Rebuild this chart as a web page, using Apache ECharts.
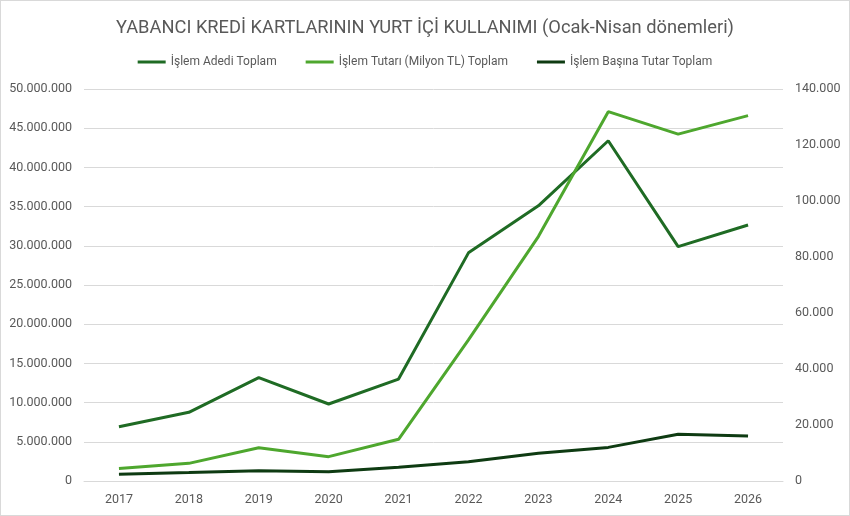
<!DOCTYPE html>
<html>
<head>
<meta charset="utf-8">
<script src="https://cdn.jsdelivr.net/npm/echarts@6/dist/echarts.min.js"></script>
<style>
	html, body { margin: 0; padding: 0; background: #fff; }
	#chart { width: 848px; height: 514px; border: 1px solid #d9d9d9; }
</style>
</head>
<body>
<div id="chart"></div>
<script>
var years = ['2017', '2018', '2019', '2020', '2021', '2022', '2023', '2024', '2025', '2026'];
// İşlem Adedi (sol eksen)
var islemAdedi = [6930000, 8760000, 13180000, 9820000, 13000000, 29100000, 35100000, 43400000, 29900000, 32650000];
// İşlem Tutarı (Milyon TL) (sağ eksen)
var islemTutari = [4500, 6300, 11900, 8700, 14900, 50400, 87300, 131900, 123900, 130500];
// İşlem Başına Tutar (sağ eksen)
var islemBasina = [2400, 3000, 3700, 3300, 4900, 6900, 9900, 12000, 16700, 16100];

var seriesNames = ['İşlem Adedi Toplam', 'İşlem Tutarı (Milyon TL) Toplam', 'İşlem Başına Tutar Toplam'];
var colors = ['#1f6b24', '#4ea72e', '#0e3b12'];

function fmt(v) {
	return String(v).replace(/\B(?=(\d{3})+(?!\d))/g, '.');
}

var chart = echarts.init(document.getElementById('chart'));
var font = 'Roboto, sans-serif';

var option = {
	animation: false,
	color: colors,
	textStyle: { fontFamily: font },
	title: {
		text: 'YABANCI KREDİ KARTLARININ YURT İÇİ KULLANIMI (Ocak-Nisan dönemleri)',
		left: 'center',
		top: 13,
		textStyle: { fontFamily: font, fontSize: 18.3, fontWeight: 'normal', color: '#595959' }
	},
	legend: {
		top: 50,
		left: 'center',
		itemWidth: 28,
		itemHeight: 3,
		itemGap: 29,
		icon: 'rect',
		textStyle: { fontFamily: font, fontSize: 12, color: '#595959' },
		data: seriesNames
	},
	grid: { left: 83, right: 66, top: 88, bottom: 34 },
	xAxis: {
		type: 'category',
		data: years,
		boundaryGap: true,
		axisLine: { lineStyle: { color: '#d9d9d9' } },
		axisTick: { show: false },
		axisLabel: { color: '#595959', fontSize: 12.5, margin: 12, fontFamily: font }
	},
	yAxis: [{
		type: 'value',
		min: 0,
		max: 50000000,
		interval: 5000000,
		axisLine: { show: false },
		axisTick: { show: false },
		splitLine: { lineStyle: { color: '#d9d9d9' } },
		axisLabel: { color: '#595959', fontSize: 12.5, margin: 12, fontFamily: font, formatter: fmt }
	}, {
		type: 'value',
		min: 0,
		max: 140000,
		interval: 20000,
		axisLine: { show: false },
		axisTick: { show: false },
		splitLine: { show: false },
		axisLabel: { color: '#595959', fontSize: 12.5, margin: 12, fontFamily: font, formatter: fmt }
	}],
	series: [{
		name: seriesNames[0],
		type: 'line',
		yAxisIndex: 0,
		data: islemAdedi,
		symbol: 'none',
		lineStyle: { width: 3 }
	}, {
		name: seriesNames[1],
		type: 'line',
		yAxisIndex: 1,
		data: islemTutari,
		symbol: 'none',
		lineStyle: { width: 3 }
	}, {
		name: seriesNames[2],
		type: 'line',
		yAxisIndex: 1,
		data: islemBasina,
		symbol: 'none',
		lineStyle: { width: 3 }
	}]
};
chart.setOption(option);
</script>
</body>
</html>
